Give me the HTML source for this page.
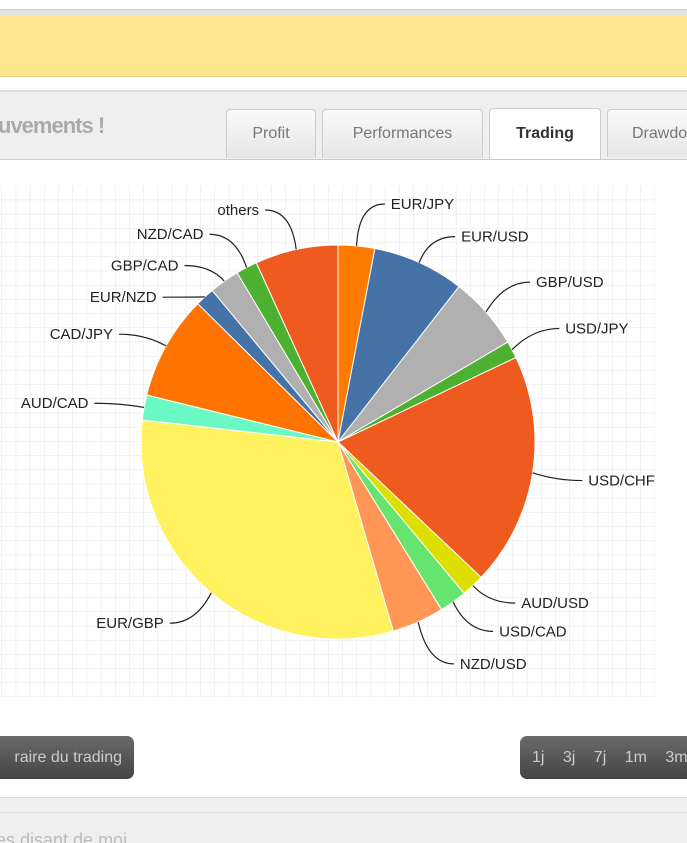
<!DOCTYPE html>
<html><head><meta charset="utf-8"><style>
html,body{margin:0;width:687px;height:843px;overflow:hidden;background:#fff;font-family:"Liberation Sans",sans-serif}
#wrap{position:relative;width:687px;height:843px;overflow:hidden}
.abs{position:absolute}
</style></head><body><div id="wrap">
<div class="abs" style="left:0;top:9px;width:687px;height:6px;background:#e4e4e4;border-top:1px solid #ccc"></div>
<div class="abs" style="left:0;top:16px;width:687px;height:60px;background:#fde68d;border-bottom:1px solid #e6d27a"></div>
<div class="abs" style="left:0;top:90px;width:687px;height:67px;background:#efefef;border-top:2px solid #ddd;border-bottom:1px solid #ccc"></div>
<div class="abs" style="left:-2px;top:113px;font-size:22px;font-weight:bold;color:#aaa;letter-spacing:-1px">uvements !</div>
<div class="abs" style="left:226px;top:109px;width:88px;height:48px;background:linear-gradient(#fafafa,#e6e6e6);border:1px solid #ccc;border-bottom:none;border-radius:4px 4px 0 0;color:#777;font-size:16px;text-align:center;line-height:48px">Profit</div>
<div class="abs" style="left:322px;top:109px;width:159px;height:48px;background:linear-gradient(#fafafa,#e6e6e6);border:1px solid #ccc;border-bottom:none;border-radius:4px 4px 0 0;color:#777;font-size:16px;text-align:center;line-height:48px">Performances</div>
<div class="abs" style="left:489px;top:108px;width:110px;height:50px;background:#fff;border:1px solid #ccc;border-bottom:none;border-radius:4px 4px 0 0;color:#333;font-size:16px;font-weight:bold;text-align:center;line-height:50px">Trading</div>
<div class="abs" style="left:607px;top:109px;width:80px;height:48px;background:linear-gradient(#fafafa,#e6e6e6);border:1px solid #ccc;border-bottom:none;border-right:none;border-radius:4px 0 0 0;color:#777;font-size:16px;line-height:48px;padding-left:24px;box-sizing:border-box;white-space:nowrap;overflow:hidden">Drawdown</div>
<svg class="abs" style="left:0;top:0" width="687" height="843">
<defs><pattern id="g" width="14.2" height="14.2" patternUnits="userSpaceOnUse" x="2" y="186"><path d="M14.2 0V14.2M0 14.2H14.2" stroke="#e4e4e4" stroke-width="1" fill="none"/></pattern></defs>
<rect x="0" y="186" width="655" height="511" fill="url(#g)"/>
<g id="pie"></g>
</svg>
<div class="abs" style="left:-10px;top:736px;width:144px;height:43px;background:linear-gradient(#6a6a6a,#444);border-radius:7px;color:#ccc;font-size:16px;line-height:43px;text-align:right;box-sizing:border-box;padding-right:12px">raire du trading</div>
<div class="abs" style="left:520px;top:736px;width:167px;height:43px;background:linear-gradient(#6a6a6a,#444);border-radius:7px 0 0 7px;color:#ccc;font-size:16px;line-height:43px;word-spacing:14px;padding-left:12px;box-sizing:border-box;white-space:nowrap;overflow:hidden">1j 3j 7j 1m 3m</div>
<div class="abs" style="left:0;top:797px;width:687px;height:46px;background:#efefef;border-top:1px solid #ddd"></div>
<div class="abs" style="left:0;top:812px;width:687px;height:1px;background:#ddd"></div>
<div class="abs" style="left:-4px;top:830px;font-size:18px;color:#bbb">es disant de moi</div>
</div>
<script>
const labels=["EUR/JPY","EUR/USD","GBP/USD","USD/JPY","USD/CHF","AUD/USD","USD/CAD","NZD/USD","EUR/GBP","AUD/CAD","CAD/JPY","EUR/NZD","GBP/CAD","NZD/CAD","others"];
const values=[10.8,27.1,21.6,5.1,68.8,6.8,8.1,15.4,112.7,7.4,30.8,5.7,8.9,6.3,24.5];
const colors=["#ff7a00","#4572a7","#b0b0b0","#4cb030","#ef5a1e","#dede00","#66e56e","#ff9655","#fff25e","#6af9c4","#ff7400","#4572a7","#b0b0b0","#4cb030","#ef5a1e"];
const labelShift=[-18,-4,-14,-10,4,0,10,20,12,0,0,18,4,-12,-16];
const cx=338,cy=442,R=197,NS="http://www.w3.org/2000/svg";
const g=document.getElementById('pie');
const total=values.reduce((a,b)=>a+b,0);
function pt(a,r){return [cx+r*Math.sin(a),cy-r*Math.cos(a)];}
let a0=0;
values.forEach((v,i)=>{
 const a1=a0+v/total*2*Math.PI;
 const p0=pt(a0,R),p1=pt(a1,R);
 const path=document.createElementNS(NS,'path');
 path.setAttribute('d',`M${cx},${cy}L${p0[0]},${p0[1]}A${R},${R} 0 ${a1-a0>Math.PI?1:0} 1 ${p1[0]},${p1[1]}Z`);
 path.setAttribute('fill',colors[i]);path.setAttribute('stroke','#fff');path.setAttribute('stroke-width','1');
 
 
 g.appendChild(path);
 const am=(a0+a1)/2,e=pt(am,R),m=pt(am,R+24);
 const ly=m[1]+labelShift[i];
 const right=Math.sin(am)>=0,ex=m[0]+(right?26:-26);
 const ln=document.createElementNS(NS,'path');
 ln.setAttribute('d',`M${e[0]},${e[1]}Q${m[0]},${ly} ${ex},${ly}`);
 ln.setAttribute('fill','none');ln.setAttribute('stroke','#222');ln.setAttribute('stroke-width','1.2');
 
 
 g.appendChild(ln);
 const t=document.createElementNS(NS,'text');
 t.setAttribute('x',ex+(right?6:-6));t.setAttribute('y',ly+5);
 t.setAttribute('text-anchor',right?'start':'end');
 t.setAttribute('font-size','15');t.setAttribute('fill','#222');
 t.setAttribute('font-family','Liberation Sans, sans-serif');
 t.textContent=labels[i];
 
 
 g.appendChild(t);
 a0=a1;
});
</script>
</body></html>
